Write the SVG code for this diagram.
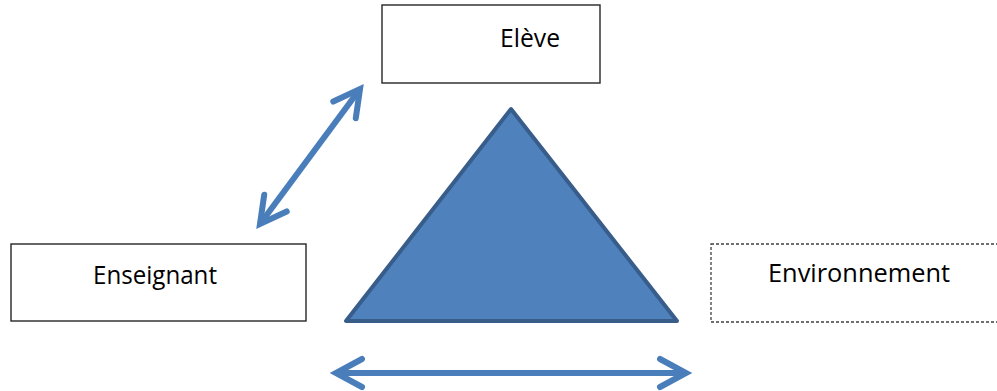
<svg xmlns="http://www.w3.org/2000/svg" width="997" height="391" viewBox="0 0 997 391">
  <style>
    .box { fill: #ffffff; stroke: #262626; stroke-width: 1.4; }
    .box-dashed { fill: #ffffff; stroke: #404040; stroke-width: 1.3; stroke-dasharray: 3 2; }
    .label { font-family: "Open Sans", "Noto Sans", "Liberation Sans", sans-serif; font-size: 26px; fill: #000000; }
    .link { stroke: #4A7EBB; stroke-width: 6; fill: none; stroke-linecap: butt; }
  </style>
  <defs>
    <marker id="arrow" markerUnits="userSpaceOnUse" orient="auto-start-reverse" refX="0" refY="0" markerWidth="60" markerHeight="60" overflow="visible">
      <path d="M -26 -14 L 0 0 L -26 14" fill="none" stroke="#4A7EBB" stroke-width="6" stroke-linecap="round" stroke-linejoin="miter"/>
    </marker>
  </defs>

  <g id="eleve">
    <rect class="box" x="382" y="5" width="218" height="78"/>
    <text class="label" x="500" y="47" textLength="60" lengthAdjust="spacingAndGlyphs">Elève</text>
  </g>

  <g id="enseignant">
    <rect class="box" x="11" y="244" width="295" height="77"/>
    <text class="label" x="93" y="284" textLength="124" lengthAdjust="spacingAndGlyphs">Enseignant</text>
  </g>

  <g id="environnement">
    <rect class="box-dashed" x="711" y="244" width="300" height="78"/>
    <text class="label" x="768" y="282" textLength="182" lengthAdjust="spacingAndGlyphs">Environnement</text>
  </g>

  <g id="triangle">
    <polygon points="511,109 346,321 677,321" fill="#4F81BD" stroke="#385D8A" stroke-width="4" stroke-linejoin="round"/>
  </g>

  <g id="connectors">
    <line class="link" x1="260" y1="224" x2="360" y2="89" marker-start="url(#arrow)" marker-end="url(#arrow)"/>
    <line class="link" x1="336" y1="373" x2="686" y2="373" marker-start="url(#arrow)" marker-end="url(#arrow)"/>
  </g>
</svg>
